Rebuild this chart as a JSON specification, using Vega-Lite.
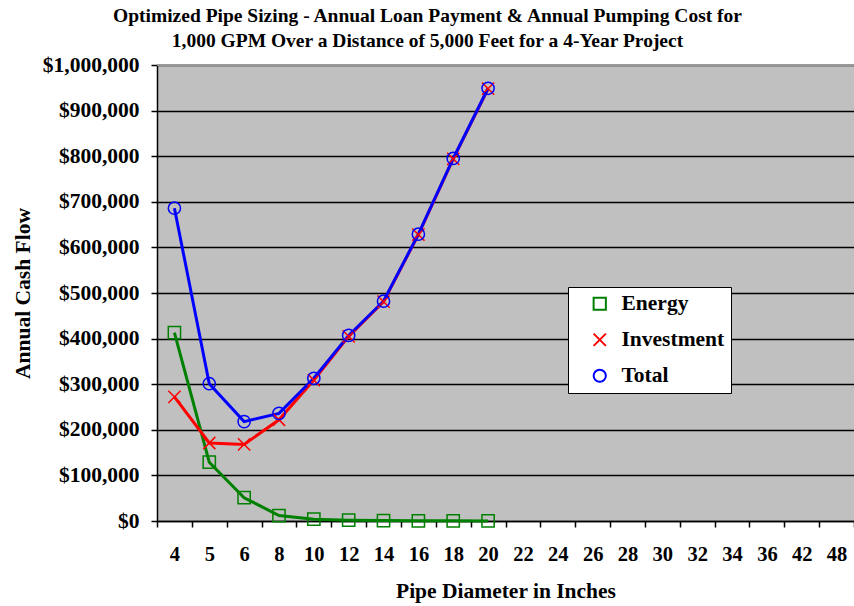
{
  "$schema": "https://vega.github.io/schema/vega-lite/v6.json",
  "width": 697,
  "height": 456,
  "autosize": {"type": "none"},
  "padding": {"left": 157, "top": 65, "right": 0, "bottom": 85},
  "background": "white",
  "title": {
    "text": ["Optimized Pipe Sizing - Annual Loan Payment & Annual Pumping Cost for", "1,000 GPM Over a Distance of 5,000 Feet for a 4-Year Project"],
    "font": "Liberation Serif",
    "fontSize": 19.5,
    "fontWeight": "bold",
    "color": "black",
    "anchor": "middle",
    "dx": -78,
    "lineHeight": 25,
    "offset": 3
  },
  "config": {
    "view": {"fill": "#C0C0C0", "stroke": null},
    "axis": {
      "labelFont": "Liberation Serif",
      "labelFontWeight": "bold",
      "labelColor": "black",
      "titleFont": "Liberation Serif",
      "titleFontWeight": "bold",
      "titleFontSize": 21.5,
      "titleColor": "black",
      "domainColor": "black",
      "tickColor": "black",
      "domainWidth": 1.5,
      "tickWidth": 1.5
    }
  },
  "data": {
    "values": [
      {"d": "4", "series": "Energy", "v": 413000},
      {"d": "5", "series": "Energy", "v": 129000},
      {"d": "6", "series": "Energy", "v": 51000},
      {"d": "8", "series": "Energy", "v": 12000},
      {"d": "10", "series": "Energy", "v": 4000},
      {"d": "12", "series": "Energy", "v": 1800},
      {"d": "14", "series": "Energy", "v": 900},
      {"d": "16", "series": "Energy", "v": 500},
      {"d": "18", "series": "Energy", "v": 300},
      {"d": "20", "series": "Energy", "v": 200},
      {"d": "4", "series": "Investment", "v": 272000},
      {"d": "5", "series": "Investment", "v": 171000},
      {"d": "6", "series": "Investment", "v": 168000},
      {"d": "8", "series": "Investment", "v": 222000},
      {"d": "10", "series": "Investment", "v": 309000},
      {"d": "12", "series": "Investment", "v": 405000},
      {"d": "14", "series": "Investment", "v": 481000},
      {"d": "16", "series": "Investment", "v": 628000},
      {"d": "18", "series": "Investment", "v": 794000},
      {"d": "20", "series": "Investment", "v": 948000},
      {"d": "4", "series": "Total", "v": 686000},
      {"d": "5", "series": "Total", "v": 301000},
      {"d": "6", "series": "Total", "v": 218000},
      {"d": "8", "series": "Total", "v": 236000},
      {"d": "10", "series": "Total", "v": 313000},
      {"d": "12", "series": "Total", "v": 407000},
      {"d": "14", "series": "Total", "v": 482000},
      {"d": "16", "series": "Total", "v": 629000},
      {"d": "18", "series": "Total", "v": 795000},
      {"d": "20", "series": "Total", "v": 949000}
    ]
  },
  "encoding": {
    "x": {
      "field": "d",
      "type": "ordinal",
      "bandPosition": 0.5,
      "scale": {
        "type": "band",
        "paddingInner": 0,
        "paddingOuter": 0,
        "domain": ["4","5","6","8","10","12","14","16","18","20","22","24","26","28","30","32","34","36","42","48"]
      },
      "axis": {
        "title": "Pipe Diameter in Inches",
        "labelAngle": 0,
        "labelFontSize": 20.5,
        "tickBand": "extent",
        "tickSize": 6,
        "labelPadding": 17,
        "titlePadding": 16,
        "grid": false
      }
    },
    "y": {
      "field": "v",
      "type": "quantitative",
      "scale": {"domain": [0, 1000000], "nice": false},
      "axis": {
        "title": "Annual Cash Flow",
        "format": "$,.0f",
        "labelFontSize": 21.5,
        "values": [0,100000,200000,300000,400000,500000,600000,700000,800000,900000,1000000],
        "tickSize": 6,
        "labelPadding": 12,
        "titlePadding": 8,
        "grid": true,
        "gridColor": "black",
        "gridWidth": 1.5,
        "gridOpacity": 1
      }
    },
    "color": {
      "field": "series",
      "type": "nominal",
      "scale": {"domain": ["Energy","Investment","Total"], "range": ["#008000","#FF0000","#0000FF"]},
      "legend": {
        "title": null,
        "orient": "none",
        "legendX": 411,
        "legendY": 222,
        "fillColor": "white",
        "strokeColor": "black",
        "padding": 6,
        "symbolSize": 150,
        "symbolStrokeWidth": 2,
        "symbolOpacity": 1,
        "symbolOffset": 15,
        "labelOffset": 11,
        "rowPadding": 13,
        "labelFont": "Liberation Serif",
        "labelFontWeight": "bold",
        "labelFontSize": 21.5,
        "labelColor": "black"
      }
    }
  },
  "layer": [
    {
      "mark": {"type": "rule", "color": "#999999", "strokeWidth": 1.5},
      "encoding": {
        "y": {"datum": 1000000},
        "x": null,
        "color": null
      }
    },
    {
      "mark": {"type": "line", "strokeWidth": 3},
      "encoding": {"detail": {"field": "series"}}
    },
    {
      "mark": {"type": "point", "filled": false, "strokeWidth": 1.5, "size": 150, "opacity": 1},
      "encoding": {
        "shape": {
          "field": "series",
          "type": "nominal",
          "scale": {"domain": ["Energy","Investment","Total"], "range": ["square","M-1,-1L1,1M-1,1L1,-1","circle"]},
          "legend": null
        }
      }
    }
  ]
}
